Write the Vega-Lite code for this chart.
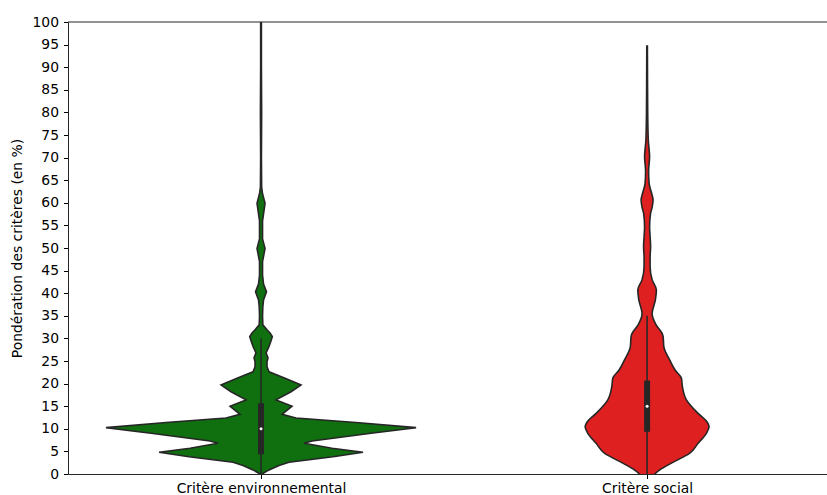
{
  "$schema": "https://vega.github.io/schema/vega-lite/v6.json",
  "width": 759,
  "height": 452,
  "autosize": {"type": "none"},
  "padding": {"left": 68, "top": 22, "right": 0, "bottom": 21},
  "background": "white",
  "config": {
    "view": {"stroke": null},
    "font": "DejaVu Sans",
    "axis": {
      "labelFont": "DejaVu Sans",
      "labelFontSize": 13.9,
      "labelColor": "#000000",
      "labelOverlap": false,
      "titleFont": "DejaVu Sans",
      "titleFontSize": 13.9,
      "titleFontWeight": "normal",
      "titleColor": "#000000",
      "tickColor": "#000000",
      "tickSize": 4.5,
      "tickWidth": 1,
      "domainColor": "#262626",
      "domainWidth": 1,
      "grid": false
    },
    "axisY": {"labelOverlap": false, "labelPadding": 5, "titlePadding": 7}
  },
  "resolve": {"axis": {"y": "independent", "x": "independent"}},
  "datasets": {
    "env": [
      {"v": 0, "lo": -0.0026, "hi": 0.0026},
      {"v": 0.9, "lo": -0.0207, "hi": 0.0207},
      {"v": 1.9, "lo": -0.0466, "hi": 0.0466},
      {"v": 2.6, "lo": -0.0725, "hi": 0.0725},
      {"v": 3.2, "lo": -0.1295, "hi": 0.1295},
      {"v": 3.8, "lo": -0.1865, "hi": 0.1865},
      {"v": 4.8, "lo": -0.2642, "hi": 0.2642},
      {"v": 5.7, "lo": -0.1839, "hi": 0.1839},
      {"v": 6.8, "lo": -0.1114, "hi": 0.1114},
      {"v": 7.3, "lo": -0.1321, "hi": 0.1321},
      {"v": 9.0, "lo": -0.2850, "hi": 0.2850},
      {"v": 10.25, "lo": -0.4016, "hi": 0.4016},
      {"v": 11.4, "lo": -0.2461, "hi": 0.2461},
      {"v": 12.4, "lo": -0.0907, "hi": 0.0907},
      {"v": 13.2, "lo": -0.0544, "hi": 0.0544},
      {"v": 15.0, "lo": -0.0803, "hi": 0.0803},
      {"v": 16.4, "lo": -0.0389, "hi": 0.0389},
      {"v": 18.2, "lo": -0.0777, "hi": 0.0777},
      {"v": 19.7, "lo": -0.1036, "hi": 0.1036},
      {"v": 21.2, "lo": -0.0622, "hi": 0.0622},
      {"v": 22.6, "lo": -0.0207, "hi": 0.0207},
      {"v": 23.7, "lo": -0.0155, "hi": 0.0155},
      {"v": 24.8, "lo": -0.0155, "hi": 0.0155},
      {"v": 25.7, "lo": -0.0181, "hi": 0.0181},
      {"v": 26.8, "lo": -0.0130, "hi": 0.0130},
      {"v": 28.2, "lo": -0.0207, "hi": 0.0207},
      {"v": 29.5, "lo": -0.0259, "hi": 0.0259},
      {"v": 30.4, "lo": -0.0293, "hi": 0.0293},
      {"v": 31.2, "lo": -0.0233, "hi": 0.0233},
      {"v": 31.9, "lo": -0.0155, "hi": 0.0155},
      {"v": 33.0, "lo": -0.0047, "hi": 0.0047},
      {"v": 35.0, "lo": -0.0039, "hi": 0.0039},
      {"v": 37.0, "lo": -0.0047, "hi": 0.0047},
      {"v": 38.5, "lo": -0.0065, "hi": 0.0065},
      {"v": 40.3, "lo": -0.0142, "hi": 0.0142},
      {"v": 42.0, "lo": -0.0065, "hi": 0.0065},
      {"v": 44.0, "lo": -0.0039, "hi": 0.0039},
      {"v": 47.0, "lo": -0.0039, "hi": 0.0039},
      {"v": 49.9, "lo": -0.0104, "hi": 0.0104},
      {"v": 52.0, "lo": -0.0039, "hi": 0.0039},
      {"v": 56.0, "lo": -0.0039, "hi": 0.0039},
      {"v": 59.9, "lo": -0.0104, "hi": 0.0104},
      {"v": 62.0, "lo": -0.0039, "hi": 0.0039},
      {"v": 63.5, "lo": -0.0016, "hi": 0.0016},
      {"v": 70, "lo": -0.0010, "hi": 0.0010},
      {"v": 80, "lo": -0.0016, "hi": 0.0016},
      {"v": 90, "lo": -0.0010, "hi": 0.0010},
      {"v": 100, "lo": -0.0010, "hi": 0.0010}
    ],
    "soc": [
      {"v": -2, "lo": 0.9922, "hi": 1.0078},
      {"v": 0, "lo": 0.9801, "hi": 1.0199},
      {"v": 0.9, "lo": 0.9671, "hi": 1.0329},
      {"v": 2.4, "lo": 0.9370, "hi": 1.0630},
      {"v": 4.6, "lo": 0.8894, "hi": 1.1106},
      {"v": 6.8, "lo": 0.8679, "hi": 1.1321},
      {"v": 9.0, "lo": 0.8464, "hi": 1.1536},
      {"v": 10.5, "lo": 0.8394, "hi": 1.1606},
      {"v": 11.5, "lo": 0.8446, "hi": 1.1554},
      {"v": 13.4, "lo": 0.8679, "hi": 1.1321},
      {"v": 16.4, "lo": 0.8982, "hi": 1.1018},
      {"v": 19.3, "lo": 0.9085, "hi": 1.0915},
      {"v": 21.2, "lo": 0.9111, "hi": 1.0889},
      {"v": 23.0, "lo": 0.9275, "hi": 1.0725},
      {"v": 25.2, "lo": 0.9412, "hi": 1.0588},
      {"v": 28.2, "lo": 0.9567, "hi": 1.0433},
      {"v": 30.4, "lo": 0.9585, "hi": 1.0415},
      {"v": 31.1, "lo": 0.9611, "hi": 1.0389},
      {"v": 33.0, "lo": 0.9767, "hi": 1.0233},
      {"v": 35.5, "lo": 0.9870, "hi": 1.0130},
      {"v": 38.5, "lo": 0.9785, "hi": 1.0215},
      {"v": 40.7, "lo": 0.9759, "hi": 1.0241},
      {"v": 43.0, "lo": 0.9870, "hi": 1.0130},
      {"v": 45.9, "lo": 0.9922, "hi": 1.0078},
      {"v": 48.0, "lo": 0.9922, "hi": 1.0078},
      {"v": 50.3, "lo": 0.9909, "hi": 1.0091},
      {"v": 52.5, "lo": 0.9922, "hi": 1.0078},
      {"v": 54.7, "lo": 0.9935, "hi": 1.0065},
      {"v": 57.7, "lo": 0.9909, "hi": 1.0091},
      {"v": 59.0, "lo": 0.9870, "hi": 1.0130},
      {"v": 60.6, "lo": 0.9845, "hi": 1.0155},
      {"v": 62.5, "lo": 0.9896, "hi": 1.0104},
      {"v": 64.3, "lo": 0.9948, "hi": 1.0052},
      {"v": 67.0, "lo": 0.9961, "hi": 1.0039},
      {"v": 70.2, "lo": 0.9935, "hi": 1.0065},
      {"v": 73.9, "lo": 0.9969, "hi": 1.0031},
      {"v": 80.0, "lo": 0.9984, "hi": 1.0016},
      {"v": 90.0, "lo": 0.9990, "hi": 1.0010},
      {"v": 94.7, "lo": 0.9992, "hi": 1.0008}
    ],
    "box": [
      {"c": 0, "wlo": 0, "whi": 30, "q1": 5, "q3": 15, "med": 10},
      {"c": 1, "wlo": 0, "whi": 35, "q1": 10, "q3": 20, "med": 15}
    ]
  },
  "layer": [
    {
      "data": {"name": "env"},
      "mark": {"type": "area", "orient": "horizontal", "interpolate": "linear", "fill": "#107010", "stroke": "#262626", "strokeWidth": 1.6, "clip": true},
      "encoding": {
        "y": {"field": "v", "type": "quantitative", "scale": {"domain": [0, 100], "nice": false, "zero": false},
          "axis": {"values": [0,5,10,15,20,25,30,35,40,45,50,55,60,65,70,75,80,85,90,95,100], "tickCount": 30, "labelOverlap": false, "title": "Pondération des critères (en %)"}},
        "x": {"field": "lo", "type": "quantitative", "scale": {"domain": [-0.5, 1.466], "nice": false, "zero": false},
          "axis": {"values": [0, 1], "title": null, "labelPadding": 3, "labelExpr": "datum.value == 0 ? 'Critère environnemental' : 'Critère social'"}},
        "x2": {"field": "hi"}
      }
    },
    {
      "data": {"name": "soc"},
      "mark": {"type": "area", "orient": "horizontal", "interpolate": "monotone", "fill": "#df2020", "stroke": "#262626", "strokeWidth": 1.6, "clip": true},
      "encoding": {
        "y": {"field": "v", "type": "quantitative", "axis": null},
        "x": {"field": "lo", "type": "quantitative", "axis": null},
        "x2": {"field": "hi"}
      }
    },
    {
      "data": {"name": "box"},
      "mark": {"type": "rule", "color": "#262626", "strokeWidth": 1.5},
      "encoding": {
        "x": {"field": "c", "type": "quantitative", "axis": null},
        "y": {"field": "wlo", "type": "quantitative", "axis": null},
        "y2": {"field": "whi"}
      }
    },
    {
      "data": {"name": "box"},
      "mark": {"type": "rule", "color": "#262626", "strokeWidth": 6, "strokeCap": "square"},
      "encoding": {
        "x": {"field": "c", "type": "quantitative", "axis": null},
        "y": {"field": "q1", "type": "quantitative", "axis": null},
        "y2": {"field": "q3"}
      }
    },
    {
      "data": {"name": "box"},
      "mark": {"type": "point", "filled": true, "color": "white", "size": 9, "opacity": 1},
      "encoding": {
        "x": {"field": "c", "type": "quantitative", "axis": null},
        "y": {"field": "med", "type": "quantitative", "axis": null}
      }
    },
    {
      "data": {"values": [{}]},
      "mark": {"type": "rule", "color": "#262626", "strokeWidth": 1},
      "encoding": {
        "y": {"datum": 100, "axis": null}
      }
    }
  ]
}
